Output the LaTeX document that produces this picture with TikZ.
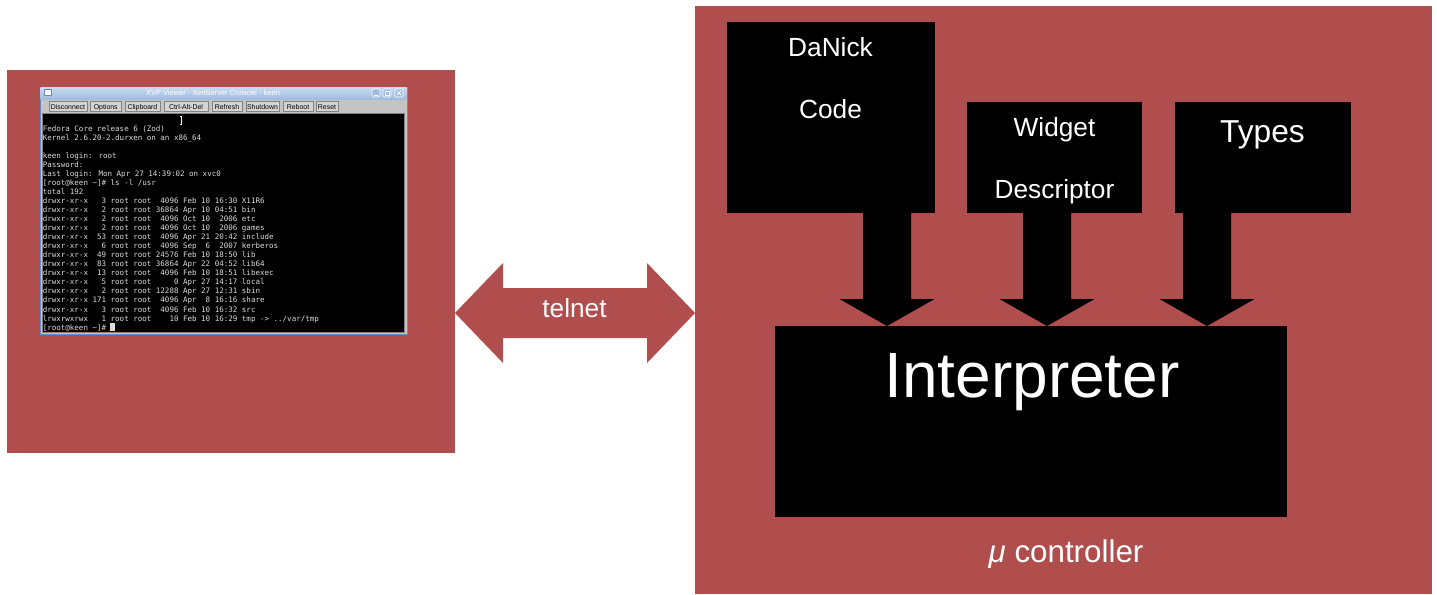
\documentclass[tikz,border=0pt]{standalone}
\usepackage{fontspec}
\setmainfont{Liberation Sans}
\newfontfamily\termfont{DejaVu Sans Mono}
\usetikzlibrary{calc,fit}

\definecolor{panelred}{RGB}{176,77,77}
\definecolor{termgray}{RGB}{220,220,220}
\definecolor{barblue}{RGB}{158,188,224}
\definecolor{barbluelight}{RGB}{200,218,240}
\definecolor{toolgray}{RGB}{196,196,196}
\definecolor{btngray}{RGB}{212,212,212}
\definecolor{btnedge}{RGB}{130,130,130}
\definecolor{frameblue}{RGB}{110,140,185}

\tikzset{
  panel/.style={fill=panelred, inner sep=0pt, outer sep=0pt},
  blackbox/.style={fill=black, inner sep=0pt, outer sep=0pt},
  whitetext/.style={text=white, inner sep=0pt, anchor=base},
  termline/.style={text=termgray, inner sep=0pt, anchor=base west,
    font=\termfont\fontsize{5.64}{6.8}\selectfont},
  tbutton/.style={fill=btngray, draw=btnedge, line width=0.35pt, inner sep=0pt, outer sep=0pt},
  btnlabel/.style={inner sep=0pt, text=black, anchor=base, font=\fontsize{5.2}{6}\selectfont},
  winctl/.style={fill=barblue, draw=white, line width=0.4pt, rounded corners=1pt,
    inner sep=0pt, outer sep=0pt},
  feedfill/.style={fill=black},
  linkfill/.style={fill=panelred},
}

% block arrow pointing down from the bottom of #2 to the top of #3, centred at x = #1
\newcommand\feedarrow[3]{%
  \fill[feedfill] ($(#1,0 |- #2.south)+(-24,0)$) -- ($(#1,0 |- #2.south)+(24,0)$)
    -- ($(#1,0 |- #3.north)+(24,-27)$) -- ($(#1,0 |- #3.north)+(47.5,-27)$)
    -- (#1,0 |- #3.north) -- ($(#1,0 |- #3.north)+(-47.5,-27)$)
    -- ($(#1,0 |- #3.north)+(-24,-27)$) -- cycle;}

\begin{document}
\begin{tikzpicture}[x=0.75pt,y=-0.75pt]
\useasboundingbox (0,0) rectangle (1437,594);

% ---------------- host side: console window ----------------
\node[panel, fit={(7,70) (455,453)}] (host) {};

\node[fill=toolgray, draw=frameblue, line width=0.5pt, inner sep=0pt, outer sep=0pt,
      fit={(40,87) (407,334)}] (window) {};
\node[top color=barbluelight, bottom color=barblue, inner sep=0pt, outer sep=0pt,
      fit={(40.5,87.5) (406.5,99)}] (titlebar) {};
\node[text=white, inner sep=0pt, font=\fontsize{5.6}{6.5}\selectfont]
      (titletext) at (213,93.3) {XVP Viewer - XenServer Console - keen};
\node[fill=white, draw=frameblue, line width=0.4pt, inner sep=0pt, outer sep=0pt,
      fit={(44.5,89.5) (51,95)}] (winicon) {};
\node[winctl, fit={(372,89) (380,97)}] (wmin) {};
\node[winctl, fit={(383,89) (391,97)}] (wmax) {};
\node[winctl, fit={(395,89) (403,97)}] (wclose) {};
\draw[white, line width=0.6pt] ($(wmin.center)+(-2,2)$) -- ($(wmin.center)+(2,2)$);
\draw[white, line width=0.5pt] ($(wmax.center)+(-2,-2)$) rectangle ($(wmax.center)+(2,2)$);
\draw[white, line width=0.6pt] ($(wclose.center)+(-2,-2)$) -- ($(wclose.center)+(2,2)$)
      ($(wclose.center)+(-2,2)$) -- ($(wclose.center)+(2,-2)$);

\foreach \xa/\xb/\t [count=\i] in {49/87/Disconnect,90.5/121/Options,125/160/Clipboard,
    164/208/Ctrl-Alt-Del,212/242/Refresh,246/279/Shutdown,283/313/Reboot,316/338/Reset}{
  \node[tbutton, fit={(\xa,101.5) (\xb,111.5)}] (btn\i) {};
  \node[btnlabel] (btnlab\i) at ($(btn\i.center |- 0,109.3)$) {\t};
}

\node[fill=black, draw=btnedge, line width=0.6pt, inner sep=0pt, outer sep=0pt,
      fit={(42.5,113.5) (404.5,332)}] (screen) {};

\foreach \t [count=\i] in {
  {Fedora Core release 6 (Zod)},
  {Kernel 2.6.20-2.durxen on an x86\_64},
  {},
  {keen login: root},
  {Password:},
  {Last login: Mon Apr 27 14:39:02 on xvc0},
  {[root@keen~\textasciitilde]\#~ls~-l~/usr},
  {total 192},
  {drwxr-xr-x~~~3~root~root~~4096~Feb~10~16:30~X11R6},
  {drwxr-xr-x~~~2~root~root~36864~Apr~10~04:51~bin},
  {drwxr-xr-x~~~2~root~root~~4096~Oct~10~~2006~etc},
  {drwxr-xr-x~~~2~root~root~~4096~Oct~10~~2006~games},
  {drwxr-xr-x~~53~root~root~~4096~Apr~21~20:42~include},
  {drwxr-xr-x~~~6~root~root~~4096~Sep~~6~~2007~kerberos},
  {drwxr-xr-x~~49~root~root~24576~Feb~10~18:50~lib},
  {drwxr-xr-x~~83~root~root~36864~Apr~22~04:52~lib64},
  {drwxr-xr-x~~13~root~root~~4096~Feb~10~18:51~libexec},
  {drwxr-xr-x~~~5~root~root~~~~~0~Apr~27~14:17~local},
  {drwxr-xr-x~~~2~root~root~12288~Apr~27~12:31~sbin},
  {drwxr-xr-x~171~root~root~~4096~Apr~~8~16:16~share},
  {drwxr-xr-x~~~3~root~root~~4096~Feb~10~16:32~src},
  {lrwxrwxrwx~~~1~root~root~~~~10~Feb~10~16:29~tmp~->~../var/tmp},
  {[root@keen~\textasciitilde]\#}}{
  \node[termline] (tline\i) at (42.5,{131+9.05*(\i-1)}) {\t};
}
% text cursor and mouse I-beam
\fill[termgray] (110,323) rectangle (114.5,331);
\draw[white, line width=0.6pt] (181,116.5) -- (181,124)
      (179.8,116) -- (182.2,116) (179.8,124.5) -- (182.2,124.5);

% ---------------- device side ----------------
\node[panel, fit={(695,6) (1432,594)}] (ctrl) {};

\node[blackbox, fit={(727,22) (935,213)}] (danick) {};
\node[blackbox, fit={(967,102) (1142,213)}] (widget) {};
\node[blackbox, fit={(1175,102) (1351,213)}] (types) {};
\node[blackbox, fit={(775,326) (1287,517)}] (interp) {};

\node[whitetext, font=\fontsize{19.7}{22}\selectfont] (danicktext) at (830.5,56) {DaNick};
\node[whitetext, font=\fontsize{19.7}{22}\selectfont] (codetext) at (830.5,118) {Code};
\node[whitetext, font=\fontsize{19.7}{22}\selectfont] (widgettext) at (1054.5,136) {Widget};
\node[whitetext, font=\fontsize{19.7}{22}\selectfont] (desctext) at (1054.5,198) {Descriptor};
\node[whitetext, font=\fontsize{23.8}{26}\selectfont] (typestext) at (1262.5,142) {Types};
\node[whitetext, font=\fontsize{48}{52}\selectfont] (interptext) at (1032,397) {Interpreter};
\node[whitetext, font=\fontsize{23.5}{26}\selectfont] (ctrltext) at (1066,562) {{\itshape μ} controller};

\feedarrow{887}{danick}{interp}
\feedarrow{1047}{widget}{interp}
\feedarrow{1207}{types}{interp}

% ---------------- telnet link ----------------
\coordinate (linkmid) at (575,313);
\fill[linkfill] (host.east |- linkmid) -- ($(host.east |- linkmid)+(48,-50)$)
  -- ($(host.east |- linkmid)+(48,-25)$) -- ($(ctrl.west |- linkmid)+(-48,-25)$)
  -- ($(ctrl.west |- linkmid)+(-48,-50)$) -- (ctrl.west |- linkmid)
  -- ($(ctrl.west |- linkmid)+(-48,50)$) -- ($(ctrl.west |- linkmid)+(-48,25)$)
  -- ($(host.east |- linkmid)+(48,25)$) -- ($(host.east |- linkmid)+(48,50)$) -- cycle;
\node[whitetext, font=\fontsize{19.7}{22}\selectfont] (telnettext) at (574.5,317) {telnet};

\end{tikzpicture}
\end{document}
